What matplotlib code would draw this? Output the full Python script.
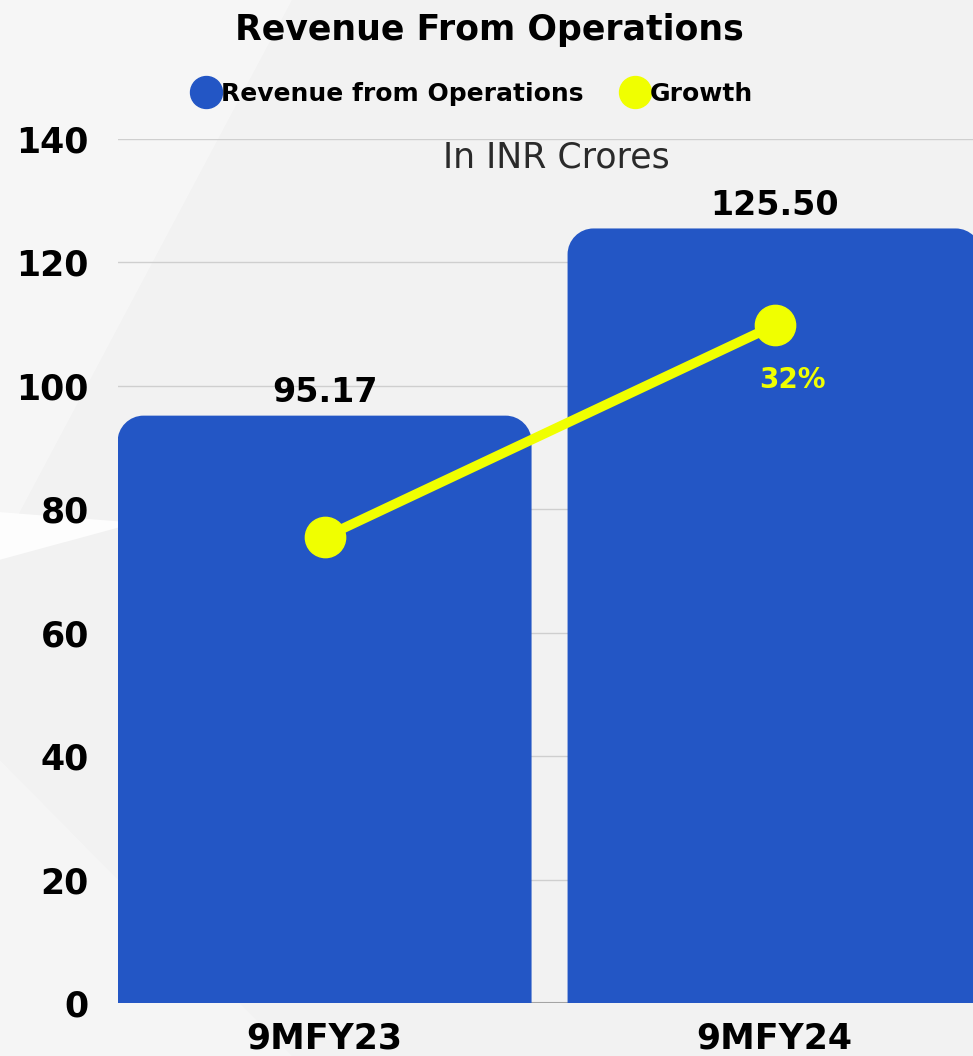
import numpy as np
import matplotlib.pyplot as plt
from matplotlib.path import Path
from matplotlib.patches import PathPatch, Polygon
from matplotlib.lines import Line2D

plt.rcParams['font.family'] = ['DejaVu Sans']

periods = ["9MFY23", "9MFY24"]
revenue = [95.17, 125.50]
growth = [22, 32]          # % growth, only the latest one is labelled
growth_labels = ["", "32%"]
yticks = [0, 20, 40, 60, 80, 100, 120, 140]

blue = "#2356c5"
yellow = "#f0ff00"
bg = "#f2f2f2"

fig = plt.figure(figsize=(9.73, 10.56), dpi=100, facecolor=bg)

# faint light shapes in the background
for pts, a in [([(0, 1), (0.30, 1), (0.0, 0.48)], 0.35),
               ([(0, 0.515), (0.14, 0.505), (0.0, 0.47)], 0.85),
               ([(0, 0.28), (0.3, 0.0), (0, 0.0)], 0.25)]:
    fig.add_artist(Polygon(pts, closed=True, transform=fig.transFigure,
                           facecolor="white", edgecolor="none", alpha=a, zorder=0))

ax = fig.add_axes([0.1213, 0.0502, 0.8787, 0.8182])
ax.set_facecolor("none")
x = np.arange(len(periods))
bars = ax.bar(x, revenue, width=0.92, color=blue, zorder=2)
ax.set_xlim(-0.459, 1.441)
ax.set_ylim(0, 140)

# swap plain rectangles for ones with rounded top corners
fig.canvas.draw()
px_x = ax.transData.transform((1, 0))[0] - ax.transData.transform((0, 0))[0]
px_y = ax.transData.transform((0, 1))[1] - ax.transData.transform((0, 0))[1]
r = 26
rx, ry = r / px_x, r / px_y
k = 0.5523
for b in bars:
    x0, y0 = b.get_x(), b.get_y()
    w, h = b.get_width(), b.get_height()
    x1, y1 = x0 + w, y0 + h
    verts = [(x0, y0), (x0, y1 - ry),
             (x0, y1 - ry + k * ry), (x0 + rx - k * rx, y1), (x0 + rx, y1),
             (x1 - rx, y1),
             (x1 - rx + k * rx, y1), (x1, y1 - ry + k * ry), (x1, y1 - ry),
             (x1, y0), (x0, y0)]
    codes = [Path.MOVETO, Path.LINETO,
             Path.CURVE4, Path.CURVE4, Path.CURVE4,
             Path.LINETO,
             Path.CURVE4, Path.CURVE4, Path.CURVE4,
             Path.LINETO, Path.CLOSEPOLY]
    ax.add_patch(PathPatch(Path(verts, codes), facecolor=blue, edgecolor="none", zorder=2))
    b.set_visible(False)

for xi, v in zip(x, revenue):
    ax.text(xi, v + 1.0, f"{v:.2f}", ha="center", va="bottom",
            fontsize=24, fontweight="bold", color="black", zorder=5)

ax.set_yticks(yticks)
ax.set_xticks(x)
ax.set_xticklabels(periods)
ax.tick_params(axis="y", length=0, pad=21, labelsize=25)
ax.tick_params(axis="x", length=0, pad=13, labelsize=25)
for lbl in ax.get_xticklabels() + ax.get_yticklabels():
    lbl.set_fontweight("bold")
ax.grid(axis="y", color="#cfcfcf", linewidth=1, zorder=1)
ax.axhline(0, color="#9a9a9a", linewidth=1.5, zorder=1)
for s in ax.spines.values():
    s.set_visible(False)

ax.text(0.513, 0.998, "In INR Crores", transform=ax.transAxes, ha="center",
        va="top", fontsize=25, color="#2a2a2a")

# growth line on its own hidden scale
ax2 = ax.twinx()
ax2.set_ylim(0, 40.8)
ax2.plot(x, growth, color=yellow, linewidth=7, marker="o", markersize=29,
         solid_capstyle="round", zorder=4)
for xi, g, t in zip(x, growth, growth_labels):
    if t:
        ax2.text(xi + 0.04, g - 2.6, t, ha="center", va="center",
                 fontsize=20, fontweight="bold", color=yellow)
ax2.axis("off")

fig.text(0.503, 0.972, "Revenue From Operations", ha="center", va="center",
         fontsize=25, fontweight="bold")

handles = [Line2D([], [], linestyle="none", marker="o", markersize=23,
                  color=blue, label="Revenue from Operations"),
           Line2D([], [], linestyle="none", marker="o", markersize=23,
                  color=yellow, label="Growth")]
fig.legend(handles=handles, loc="center", bbox_to_anchor=(0.487, 0.911), ncol=2,
           frameon=False, handlelength=0.9, handletextpad=0.15,
           columnspacing=1.6, prop={"size": 18, "weight": "bold"})

fig.savefig("out.png", dpi=100, facecolor=bg)
